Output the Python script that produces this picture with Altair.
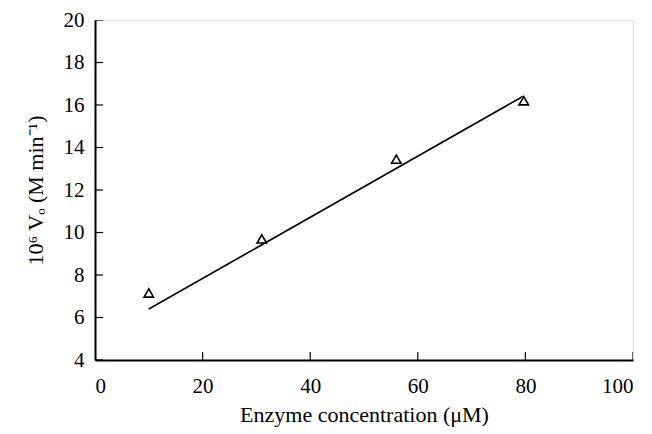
import altair as alt
import pandas as pd

# measured points
enzyme_conc = [10, 31, 56, 79.7]
rate_v0 = [7.15, 9.7, 13.45, 16.2]

# fitted line end points
fit_x = [10, 79.5]
fit_y = [6.4, 16.4]

x_ticks = [0, 20, 40, 60, 80, 100]
y_ticks = [4, 6, 8, 10, 12, 14, 16, 18, 20]

pts = pd.DataFrame({"x": enzyme_conc, "y": rate_v0})
fit = pd.DataFrame({"x": fit_x, "y": fit_y})
xt = pd.DataFrame({"x": x_ticks})
yt = pd.DataFrame({"y": y_ticks})

FONT = "Liberation Serif"

xscale = alt.Scale(domain=[x_ticks[0], x_ticks[-1]], nice=False)
yscale = alt.Scale(domain=[y_ticks[0], y_ticks[-1]], nice=False)

x_enc = alt.X("x:Q", scale=xscale, title="Enzyme concentration (\u03bcM)",
              axis=alt.Axis(values=x_ticks, tickSize=0, labelPadding=15,
                            domainColor="black", domainWidth=2, grid=False,
                            labelFont=FONT, labelFontSize=21, labelColor="black",
                            titleFont=FONT, titleFontSize=22, titleFontWeight="normal",
                            titleColor="black", titlePadding=8))
y_enc = alt.Y("y:Q", scale=yscale, title="10\u2076 V\u2092 (M min\u207b\u00b9)",
              axis=alt.Axis(values=y_ticks, tickSize=0, labelPadding=11,
                            domainColor="black", domainWidth=2, grid=False,
                            labelFont=FONT, labelFontSize=21, labelColor="black",
                            titleFont=FONT, titleFontSize=22, titleFontWeight="normal",
                            titleColor="black", titlePadding=16))

points = alt.Chart(pts).mark_point(shape="triangle-up", filled=False, color="black",
                                   size=90, strokeWidth=1.6, opacity=1).encode(x=x_enc, y=y_enc)

line = alt.Chart(fit).mark_line(color="black", strokeWidth=1.6).encode(x=x_enc, y=y_enc)

xtick_marks = alt.Chart(xt).mark_tick(orient="vertical", color="black", size=16,
                                      thickness=1.2, clip=True, opacity=1).encode(
    x=x_enc, y=alt.datum(y_ticks[0], scale=yscale))
ytick_marks = alt.Chart(yt).mark_tick(orient="horizontal", color="black", size=16,
                                      thickness=1.2, clip=True, opacity=1).encode(
    y=y_enc, x=alt.datum(x_ticks[0], scale=xscale))

chart = alt.layer(xtick_marks, ytick_marks, line, points).properties(
    width=538, height=340,
    autosize=alt.AutoSizeParams(type="none"),
    padding={"left": 87, "top": 12, "right": 10, "bottom": 72},
).configure_view(stroke="black", strokeWidth=1.5).configure(background="white")

chart.save("out.html", embed_options={"renderer": "svg", "actions": False})
